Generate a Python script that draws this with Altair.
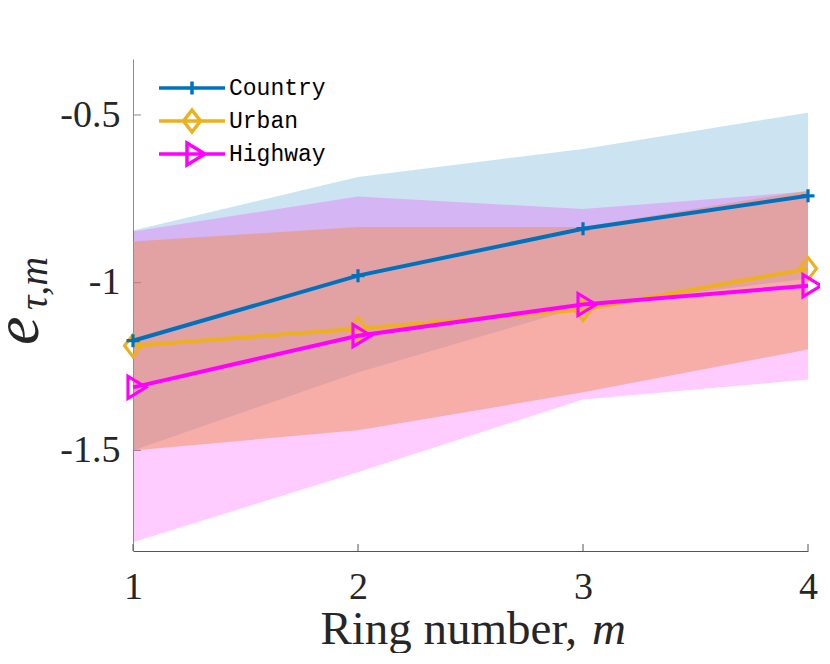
import altair as alt
import pandas as pd

# ---------------- data ----------------
rings = [1, 2, 3, 4]
series_names = ["Country", "Urban", "Highway"]
series_colors = ["#0072BD", "#EDB120", "#FF00FF"]
band_opacity = [0.2, 0.48, 0.2]

country_mean = [-1.173, -0.979, -0.839, -0.741]
country_upper = [-0.844, -0.685, -0.601, -0.493]
country_lower = [-1.500, -1.268, -1.071, -0.988]

urban_mean = [-1.188, -1.137, -1.080, -0.958]
urban_upper = [-0.877, -0.834, -0.834, -0.725]
urban_lower = [-1.500, -1.440, -1.327, -1.199]

highway_mean = [-1.312, -1.158, -1.065, -1.009]
highway_upper = [-0.847, -0.743, -0.780, -0.728]
highway_lower = [-1.774, -1.565, -1.348, -1.289]

x_ticks = [1, 2, 3, 4]
y_ticks = [-1.5, -1.0, -0.5]
y_domain = [-1.8, -0.333]

x_title = "Ring number,"
x_title_var = "m"
y_title_main = "e"
y_title_sub = "τ,m"

# marker shapes (custom SVG paths, unit = sqrt(size)/2 px)
marker_paths = {
    "Country": "M0,-0.65V0.65M-0.65,0H0.65",
    "Urban": "M0,-1.1L0.85,0L0,1.1L-0.85,0Z",
    "Highway": "M-0.5,-1.1L1.3,0L-0.5,1.1Z",
}
# legend symbols: line + marker; the leading moves give every entry the same extent
legend_paths = [
    "M-3.3,-1.2M3.3,1.2M-3.3,0H3.3M0,-0.65V0.65",
    "M-3.3,-1.2M3.3,1.2M-3.3,0H3.3M0,-1.1L0.85,0L0,1.1L-0.85,0Z",
    "M-3.3,-1.2M3.3,1.2M-3.3,0H3.3M-0.5,-1.1L1.3,0L-0.5,1.1Z",
]

means = {"Country": country_mean, "Urban": urban_mean, "Highway": highway_mean}
uppers = {"Country": country_upper, "Urban": urban_upper, "Highway": highway_upper}
lowers = {"Country": country_lower, "Urban": urban_lower, "Highway": highway_lower}

rows = []
for name in series_names:
    for i, r in enumerate(rings):
        rows.append({"series": name, "ring": r, "mean": means[name][i],
                     "upper": uppers[name][i], "lower": lowers[name][i]})
df = pd.DataFrame(rows)

# ---------------- styling ----------------
W, H = 675, 492
serif = "Liberation Serif"
axis_gray = "#555555"
text_col = "#262626"

xscale = alt.Scale(domain=[1, 4], nice=False, zero=False)
yscale = alt.Scale(domain=y_domain, nice=False, zero=False)

ax_x = alt.Axis(values=x_ticks, format="d", title=None, ticks=False, grid=False,
                labelFont=serif, labelFontSize=38, labelColor=text_col,
                labelBaseline="alphabetic", labelPadding=47, labelFlush=False,
                domainColor=axis_gray, domainWidth=1)
ax_y = alt.Axis(values=y_ticks, title=None, ticks=False, grid=False,
                labelFont=serif, labelFontSize=38, labelColor=text_col,
                labelPadding=13, labelFlush=False,
                labelExpr="datum.value == -1 ? '-1' : '-' + format(-datum.value, '.1f')",
                domainColor="#8c8c8c", domainWidth=1)

X = alt.X("ring:Q", scale=xscale, axis=ax_x)

layers = []

# inward tick marks (under the bands)
xt = pd.DataFrame({"ring": x_ticks})
layers.append(alt.Chart(xt).mark_rule(color=axis_gray, strokeWidth=1).encode(
    x=X, y=alt.value(H), y2=alt.value(H - 7)))
yt = pd.DataFrame({"val": y_ticks})
layers.append(alt.Chart(yt).mark_rule(color="#8c8c8c", strokeWidth=1).encode(
    y=alt.Y("val:Q", scale=yscale, axis=ax_y), x=alt.value(0), x2=alt.value(8)))

# bands
for name, col, op in zip(series_names, series_colors, band_opacity):
    layers.append(alt.Chart(df[df.series == name]).mark_area(
        color=col, opacity=op, interpolate="linear").encode(
        x=X, y=alt.Y("upper:Q", scale=yscale, axis=ax_y), y2="lower:Q"))

# lines + markers
for name in ["Urban", "Highway", "Country"]:
    col = series_colors[series_names.index(name)]
    sub = df[df.series == name]
    layers.append(alt.Chart(sub).mark_line(color=col, strokeWidth=4).encode(
        x=X, y=alt.Y("mean:Q", scale=yscale, axis=ax_y)))
    layers.append(alt.Chart(sub).mark_point(
        shape=marker_paths[name], size=400, filled=False, color=col,
        strokeWidth=3.2, opacity=1).encode(
        x=X, y=alt.Y("mean:Q", scale=yscale, axis=ax_y)))

# legend (native legend from an empty layer)
leg = alt.Legend(title=None, orient="none", legendX=47, legendY=17,
                 symbolSize=400, symbolStrokeWidth=3.5, symbolOpacity=1,
                 labelFont="Liberation Mono", labelFontSize=23, labelColor="black",
                 labelOffset=25, rowPadding=-5, padding=0, direction="vertical")
layers.append(alt.Chart(df).transform_filter("false").mark_point(
    filled=False, opacity=1, strokeWidth=3.5).encode(
    x=X, y=alt.Y("mean:Q", scale=yscale, axis=ax_y),
    color=alt.Color("series:N", scale=alt.Scale(domain=series_names, range=series_colors), legend=leg),
    shape=alt.Shape("series:N", scale=alt.Scale(domain=series_names, range=legend_paths), legend=leg)))

# axis titles
layers.append(alt.Chart(pd.DataFrame({"t": [x_title]})).mark_text(
    font=serif, fontSize=47, color=text_col, align="right", baseline="alphabetic").encode(
    text="t:N", x=alt.value(444), y=alt.value(585)))
layers.append(alt.Chart(pd.DataFrame({"t": [x_title_var]})).mark_text(
    font=serif, fontSize=47, fontStyle="italic", color=text_col, align="left", baseline="alphabetic").encode(
    text="t:N", x=alt.value(459), y=alt.value(585)))
layers.append(alt.Chart(pd.DataFrame({"t": [y_title_main]})).mark_text(
    font=serif, fontSize=64, fontStyle="italic", color=text_col, align="left", baseline="alphabetic",
    angle=270).encode(text="t:N", x=alt.value(-95), y=alt.value(286)))
layers.append(alt.Chart(pd.DataFrame({"t": [y_title_sub]})).mark_text(
    font=serif, fontSize=40, fontStyle="italic", color=text_col, align="left", baseline="alphabetic",
    angle=270).encode(text="t:N", x=alt.value(-86), y=alt.value(251)))

chart = alt.layer(*layers).properties(
    width=W, height=H,
    autosize=alt.AutoSizeParams(type="none"),
    padding={"left": 125, "top": 51, "right": 12, "bottom": 102},
    background="white",
).configure_view(stroke=None)

chart.save("out.html", embed_options={"renderer": "svg", "actions": False})
